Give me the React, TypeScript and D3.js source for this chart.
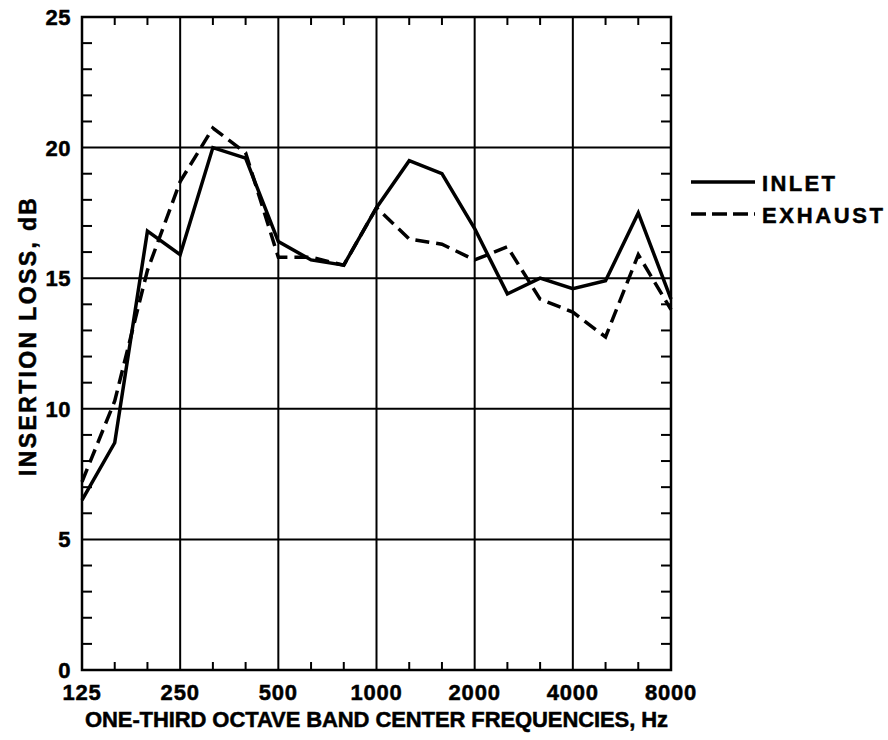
import React from "react";
import * as d3 from "d3";

const bands = [125, 160, 200, 250, 315, 400, 500, 630, 800, 1000, 1250, 1600, 2000, 2500, 3150, 4000, 5000, 6300, 8000];
const inlet = [6.5, 8.7, 16.8, 15.9, 20.0, 19.6, 16.4, 15.7, 15.5, 17.7, 19.5, 19.0, 16.9, 14.4, 15.0, 14.6, 14.9, 17.5, 14.2];
const exhaust = [7.2, 10.3, 15.3, 18.7, 20.75, 19.8, 15.8, 15.8, 15.5, 17.7, 16.5, 16.3, 15.7, 16.2, 14.2, 13.7, 12.75, 15.9, 13.8];
const xTickLabels = ["125", "250", "500", "1000", "2000", "4000", "8000"];
const yTicks = [0, 5, 10, 15, 20, 25];
const seriesNames = ["INLET", "EXHAUST"];

const W = 888, H = 740;
const left = 82, right = 671, top = 17, bottom = 670;
const FONT = "'Liberation Sans', Arial, Helvetica, sans-serif";
const textStyle = { fontFamily: FONT, fontWeight: "bold" as const };

export default function App() {
  const x = d3.scaleLinear().domain([0, bands.length - 1]).range([left, right]);
  const y = d3.scaleLinear().domain([0, 25]).range([bottom, top]);
  const line = d3.line<number>().x((_, i) => x(i)).y((d) => y(d));
  const octaveIdx = xTickLabels.map((l) => bands.indexOf(+l));
  const minorX = bands.map((_, i) => i).filter((i) => i % 3 !== 0);
  const minorY = d3.range(1, 25).filter((v) => v % 5 !== 0);

  return (
    <svg width={W} height={H} style={{ position: "absolute", left: 0, top: 0, background: "#fff" }}>
      {/* grid */}
      {octaveIdx.slice(1, -1).map((i) => (
        <line key={"gx" + i} x1={x(i)} x2={x(i)} y1={top} y2={bottom} stroke="#000" strokeWidth={2} />
      ))}
      {yTicks.slice(1, -1).map((v) => (
        <line key={"gy" + v} x1={left} x2={right} y1={y(v)} y2={y(v)} stroke="#000" strokeWidth={2} />
      ))}
      {/* minor ticks */}
      {minorX.map((i) => (
        <g key={"mx" + i}>
          <line x1={x(i)} x2={x(i)} y1={top} y2={top + 8} stroke="#000" strokeWidth={2} />
          <line x1={x(i)} x2={x(i)} y1={bottom} y2={bottom - 8} stroke="#000" strokeWidth={2} />
        </g>
      ))}
      {minorY.map((v) => (
        <g key={"my" + v}>
          <line x1={left} x2={left + 10} y1={y(v)} y2={y(v)} stroke="#000" strokeWidth={2} />
          <line x1={right} x2={right - 10} y1={y(v)} y2={y(v)} stroke="#000" strokeWidth={2} />
        </g>
      ))}
      {/* frame */}
      <rect x={left} y={top} width={right - left} height={bottom - top} fill="none" stroke="#000" strokeWidth={2.5} />
      {/* data */}
      <path d={line(inlet) || ""} fill="none" stroke="#000" strokeWidth={3.5} strokeLinejoin="miter" />
      <path d={line(exhaust) || ""} fill="none" stroke="#000" strokeWidth={3.5} strokeDasharray="14 7" />
      {/* y tick labels */}
      {yTicks.map((v) => (
        <text key={"yl" + v} x={left - 11} y={y(v)} dy="0.36em" textAnchor="end" {...textStyle} fontSize={22} letterSpacing={0.5} stroke="#000" strokeWidth={0.5}>
          {v}
        </text>
      ))}
      {/* x tick labels */}
      {xTickLabels.map((l, k) => (
        <text key={"xl" + l} x={x(octaveIdx[k])} y={700} textAnchor="middle" {...textStyle} fontSize={22} letterSpacing={0.8} stroke="#000" strokeWidth={0.5}>
          {l}
        </text>
      ))}
      {/* axis titles */}
      <text x={85} y={727} {...textStyle} fontSize={22} textLength={583} lengthAdjust="spacing" stroke="#000" strokeWidth={0.5}>
        ONE-THIRD OCTAVE BAND CENTER FREQUENCIES, Hz
      </text>
      <text transform={`translate(36, 476) rotate(-90)`} {...textStyle} fontSize={23} textLength={278} lengthAdjust="spacing" stroke="#000" strokeWidth={0.5}>
        INSERTION LOSS, dB
      </text>
      {/* legend */}
      <line x1={691} x2={755} y1={182} y2={182} stroke="#000" strokeWidth={3.5} />
      <text x={762} y={191} {...textStyle} fontSize={22} textLength={73} lengthAdjust="spacing" stroke="#000" strokeWidth={0.5}>{seriesNames[0]}</text>
      <line x1={691} x2={755} y1={214} y2={214} stroke="#000" strokeWidth={3.5} strokeDasharray="15 6" />
      <text x={762} y={223} {...textStyle} fontSize={22} textLength={121} lengthAdjust="spacing" stroke="#000" strokeWidth={0.5}>{seriesNames[1]}</text>
    </svg>
  );
}
